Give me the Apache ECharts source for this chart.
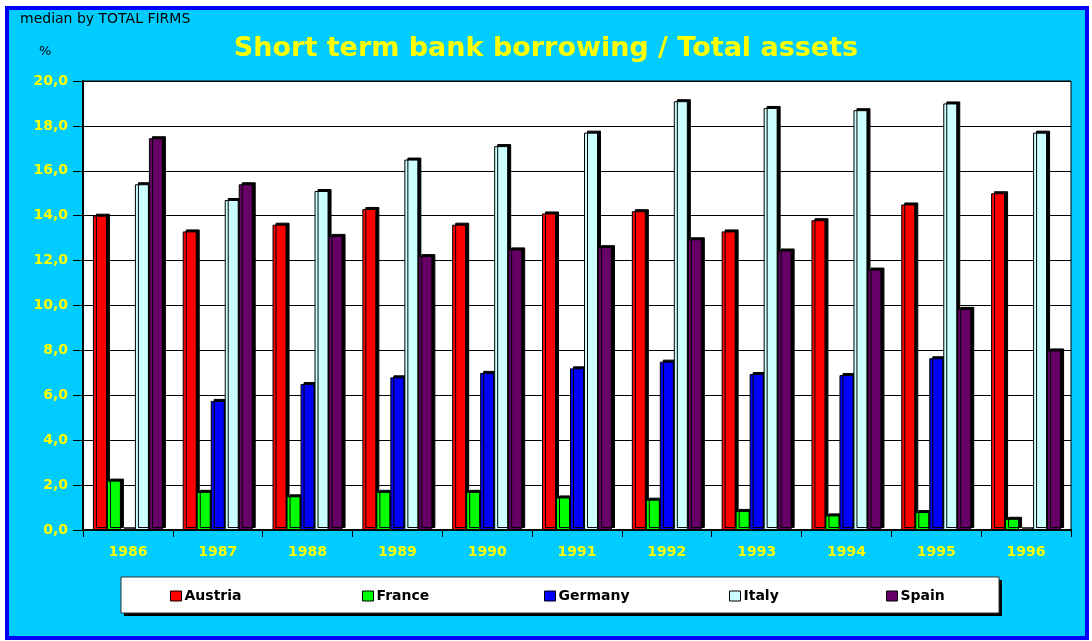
<!DOCTYPE html>
<html>
<head>
<meta charset="utf-8">
<script src="https://cdn.jsdelivr.net/npm/echarts@6/dist/echarts.min.js"></script>
<style>
html,body{margin:0;padding:0;background:#fff;}
#chart{width:1092px;height:641px;}
</style>
</head>
<body>
<div id="chart"></div>
<script>
var years = ['1986','1987','1988','1989','1990','1991','1992','1993','1994','1995','1996'];
var austria = [14.0, 13.3, 13.6, 14.3, 13.6, 14.1, 14.2, 13.3, 13.8, 14.5, 15.0];
var france  = [2.2, 1.7, 1.5, 1.7, 1.7, 1.45, 1.35, 0.85, 0.65, 0.8, 0.5];
var germany = [0, 5.75, 6.5, 6.8, 7.0, 7.2, 7.5, 6.95, 6.9, 7.65, 0];
var italy   = [15.4, 14.7, 15.1, 16.5, 17.1, 17.7, 19.1, 18.8, 18.7, 19.0, 17.7];
var spain   = [17.45, 15.4, 13.1, 12.2, 12.5, 12.6, 12.95, 12.45, 11.6, 9.85, 8.0];
var yTicks = { min: 0, max: 20, interval: 2 };

var seriesDefs = [
  { name: 'Austria', data: austria, color: '#FF0000' },
  { name: 'France',  data: france,  color: '#00FF00' },
  { name: 'Germany', data: germany, color: '#0000FF' },
  { name: 'Italy',   data: italy,   color: '#CCFFFF' },
  { name: 'Spain',   data: spain,   color: '#660066' }
];
var legendX = [170, 362, 544, 729, 886];

var font = 'DejaVu Sans';
var chart = echarts.init(document.getElementById('chart'));

var legends = seriesDefs.map(function (s, i) {
  return {
    data: [s.name],
    left: legendX[i],
    top: 589,
    itemWidth: 11,
    itemHeight: 10,
    icon: 'rect',
    padding: 0,
    itemStyle: { borderColor: '#000', borderWidth: 1, shadowOffsetX: 0, shadowOffsetY: 0, shadowColor: 'rgba(0,0,0,0)' },
    textStyle: { fontFamily: font, fontWeight: 'bold', fontSize: 14, color: '#000', padding: [0, 0, 0, -2] },
    selectedMode: false
  };
});

var option = {
  backgroundColor: '#fff',
  animation: false,
  title: {
    text: 'Short term bank borrowing / Total assets',
    left: 'center',
    top: 30,
    textStyle: { fontFamily: font, fontWeight: 'bold', fontSize: 27, color: '#FFFF00' }
  },
  graphic: [
    { type: 'rect', z: -100, shape: { x: 7, y: 8, width: 1080, height: 630 },
      style: { fill: '#00CCFF', stroke: '#0000FF', lineWidth: 4 } },
    { type: 'rect', z: -50, shape: { x: 124, y: 580, width: 878, height: 36 },
      style: { fill: '#000' } },
    { type: 'rect', z: -40, shape: { x: 121, y: 577, width: 878, height: 36 },
      style: { fill: '#fff', stroke: '#333', lineWidth: 1 } },
    { type: 'text', left: 20, top: 12,
      style: { text: 'median by TOTAL FIRMS', fontFamily: font, fontSize: 14, fill: '#000' } },
    { type: 'text', left: 39, top: 45,
      style: { text: '%', fontFamily: font, fontSize: 13, fill: '#000' } }
  ],
  legend: legends,
  grid: {
    left: 83, right: 21, top: 81, bottom: 111,
    show: true, backgroundColor: '#fff', borderColor: '#000', borderWidth: 1
  },
  xAxis: {
    type: 'category',
    data: years,
    boundaryGap: true,
    axisLine: { lineStyle: { color: '#000', width: 2 } },
    axisTick: { show: true, length: 7, inside: false, lineStyle: { color: '#000' } },
    axisLabel: { margin: 15, color: '#FFFF00', fontFamily: font, fontWeight: 'bold', fontSize: 14 }
  },
  yAxis: {
    type: 'value',
    min: yTicks.min, max: yTicks.max, interval: yTicks.interval,
    axisLine: { show: true, lineStyle: { color: '#000', width: 2 } },
    axisTick: { show: true, length: 10, lineStyle: { color: '#000' } },
    axisLabel: {
      margin: 15, color: '#FFFF00', fontFamily: font, fontWeight: 'bold', fontSize: 14,
      formatter: function (v) { return v.toFixed(1).replace('.', ','); }
    },
    splitLine: { show: true, lineStyle: { color: '#000', width: 1 } }
  },
  series: seriesDefs.map(function (s) {
    return {
      name: s.name,
      type: 'bar',
      data: s.data,
      barWidth: 14,
      barGap: '0%',
      itemStyle: {
        color: s.color,
        borderColor: '#000',
        borderWidth: 1,
        shadowColor: '#000',
        shadowBlur: 0,
        shadowOffsetX: 3,
        shadowOffsetY: -2
      },
      emphasis: { disabled: true }
    };
  })
};
chart.setOption(option);
</script>
</body>
</html>
